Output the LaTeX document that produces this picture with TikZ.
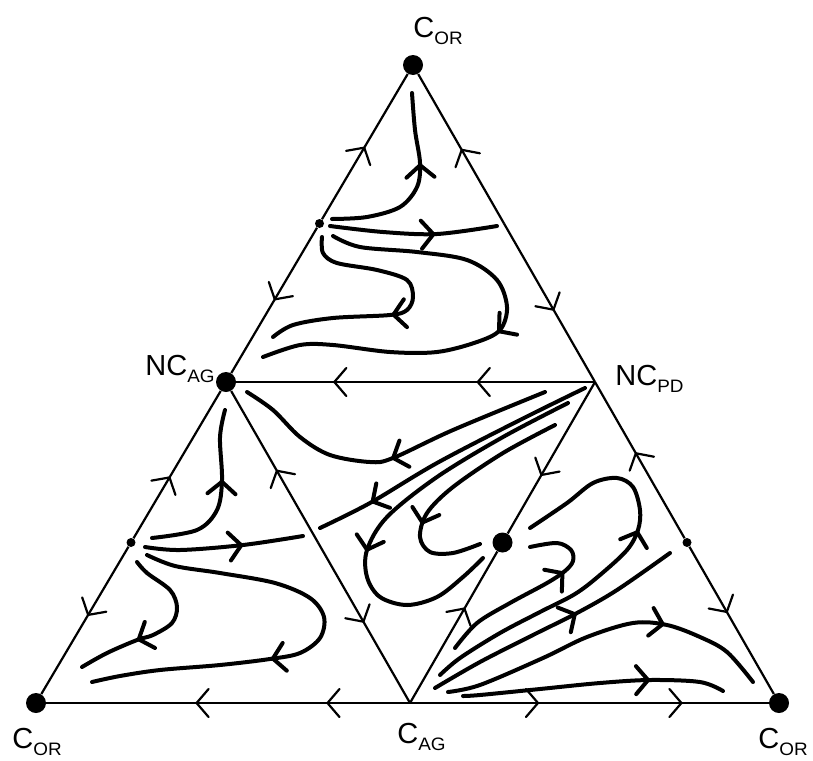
\documentclass[tikz,border=0pt]{standalone}
\usepackage{fontspec}
\setmainfont{Liberation Sans}
\usetikzlibrary{arrows.meta,calc,decorations.markings}
\newcommand\lsub[1]{\raisebox{-3.5pt}{\fontsize{9}{9}\selectfont\scalebox{1.05}[1]{#1}}}

\begin{document}
\begin{tikzpicture}[
  x=0.5pt, y=-0.5pt,
  chev/.tip={Straight Barb[length=6pt,width=14pt,round]},
  edge/.style={line width=1.1pt},
  flow/.style={line width=2pt,line cap=round,line join=round},
  arrs/.style={postaction={decorate,decoration={markings,mark=at position #1 with {\arrow{chev}}}}},
  bigdot/.style={circle,fill,inner sep=0pt,minimum size=10pt},
  smalldot/.style={circle,fill,inner sep=0pt,minimum size=4.5pt},
  lbl/.style={font=\fontsize{14.5}{14.5}\selectfont,inner sep=0pt,anchor=base west}
]
  \useasboundingbox (0,0) rectangle (813,760);

  % corners
  \node[bigdot] (T) at (413,65) {};
  \node[bigdot] (BL) at (36,703) {};
  \node[bigdot] (BR) at (779,703) {};
  \node[bigdot] (A) at (226,382) {};
  \coordinate (P) at (595,382);
  \coordinate (G) at (410,703);

  % mid points
  \node[smalldot] (m1) at ($(T)!.5!(A)$) {};
  \node[smalldot] (m2) at ($(A)!.5!(BL)$) {};
  \node[smalldot] (m3) at ($(P)!.5!(BR)$) {};
  \node[bigdot] (D) at ($(P)!.5!(G)$) {};
  \coordinate (mTP) at ($(T)!.5!(P)$);
  \coordinate (mAG) at ($(A)!.5!(G)$);

  \node[lbl] (lT) at (413,37) {C\lsub{OR}};
  \node[lbl] (lA) at (145,375) {NC\lsub{AG}};
  \node[lbl] (lP) at (615,385) {NC\lsub{PD}};
  \node[lbl] (lBL) at (12,748) {C\lsub{OR}};
  \node[lbl] (lG) at (397,743) {C\lsub{AG}};
  \node[lbl] (lBR) at (758,748) {C\lsub{OR}};

  % edges
  \draw[edge,arrs=.5] (m1) -- (T);
  \draw[edge,arrs=.5] (m1) -- (A);
  \draw[edge,arrs=.5] (mTP) -- (T);
  \draw[edge,arrs=.55] (mTP) -- (P);
  \draw[edge,arrs=.55] (m3) -- (P);
  \draw[edge,arrs=.45] (m3) -- (BR);
  \draw[edge,arrs=.42] (m2) -- (A);
  \draw[edge,arrs=.47] (m2) -- (BL);
  \draw[edge,arrs=.48] (mAG) -- (A);
  \draw[edge,arrs=.5] (mAG) -- (G);
  \draw[edge,arrs=.62] (P) -- (D);
  \draw[edge,arrs=.63] (G) -- (D);
  \draw[edge,arrs=.33,arrs=.73] (P) -- (A);
  \draw[edge,arrs=.23,arrs=.59] (G) -- (BL);
  \draw[edge,arrs=.36,arrs=.76] (G) -- (BR);

  % flow lines, top
  \draw[flow,arrs=.63] plot[smooth,tension=.55] coordinates {(332,219) (367,217) (400,207) (417,187) (420,163) (415,130) (412,93)};
  \draw[flow,arrs=.63] plot[smooth,tension=.55] coordinates {(330,226) (383,232) (437,234) (497,226)};
  \draw[flow,arrs=.49] plot[smooth,tension=.55] coordinates {(333,236) (360,247) (417,252) (467,260) (497,280) (507,307) (500,330) (477,342) (437,352) (390,352) (333,345) (300,345) (263,357)};
  \draw[flow,arrs=.56] plot[smooth,tension=.55] coordinates {(322,237) (323,253) (337,263) (377,270) (407,280) (413,297) (407,310) (390,315) (333,318) (293,325) (273,337)};

  % flow lines, lower left
  \draw[flow,arrs=.6] plot[smooth,tension=.55] coordinates {(152,538) (197,530) (217,510) (222,480) (220,437) (225,410)};
  \draw[flow,arrs=.62] plot[smooth,tension=.55] coordinates {(145,547) (180,550) (243,545) (303,536)};
  \draw[flow,arrs=.6] plot[smooth,tension=.55] coordinates {(147,555) (175,566) (220,573) (275,583) (310,598) (324,617) (320,638) (300,653) (270,659) (220,665) (160,670) (120,676) (92,682)};
  \draw[flow,arrs=.66] plot[smooth,tension=.55] coordinates {(137,562) (147,573) (170,590) (177,607) (172,623) (153,635) (137,640) (107,653) (82,667)};

  % flow lines, middle
  \draw[flow,arrs=.5] plot[smooth,tension=.55] coordinates {(545,392) (453,430) (393,458) (370,462) (330,455) (300,437) (273,410) (247,392)};
  \draw[flow,arrs=.81] plot[smooth,tension=.55] coordinates {(585,388) (520,420) (437,463) (370,503) (320,528)};
  \draw[flow,arrs=.6] plot[smooth,tension=.55] coordinates {(568,403) (503,437) (437,477) (387,517) (367,550) (367,577) (380,597) (407,605) (437,597) (463,577) (483,558)};
  \draw[flow,arrs=.67] plot[smooth,tension=.55] coordinates {(555,425) (503,453) (453,487) (427,513) (420,537) (430,552) (453,553) (480,544)};

  % flow lines, lower right
  \draw[flow,arrs=.6] plot[smooth,tension=.55] coordinates {(440,675) (460,658) (500,633) (540,612) (575,594) (600,575) (627,550) (638,530) (640,510) (633,487) (617,478) (593,483) (567,503) (530,528)};
  \draw[flow,arrs=.66] plot[smooth,tension=.55] coordinates {(455,648) (477,623) (510,603) (547,583) (565,571) (573,561) (571,550) (557,543) (530,547)};
  \draw[flow,arrs=.59] plot[smooth,tension=.55] coordinates {(435,688) (480,662) (533,635) (577,613) (617,590) (670,553)};
  \draw[flow,arrs=.68] plot[smooth,tension=.55] coordinates {(448,692) (480,685) (543,658) (587,637) (633,623) (667,625) (700,637) (727,652) (753,682)};
  \draw[flow,arrs=.715] plot[smooth,tension=.55] coordinates {(463,696) (480,695) (540,689) (600,683) (650,680) (700,682) (723,691)};
\end{tikzpicture}
\end{document}
